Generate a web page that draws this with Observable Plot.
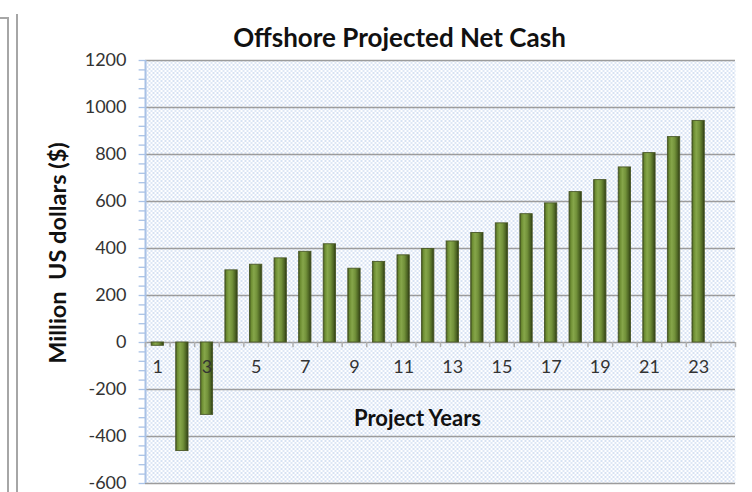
<!DOCTYPE html>
<html>
<head>
<meta charset="utf-8">
<script src="https://cdn.jsdelivr.net/npm/d3@7"></script>
<script src="https://cdn.jsdelivr.net/npm/@observablehq/plot@0.6"></script>
<style>
  html, body { margin: 0; padding: 0; background: #fff; }
  #wrap { position: relative; width: 752px; height: 492px; overflow: hidden; font-family: Lato, "Open Sans", sans-serif; }
  .edge { position: absolute; background: #a6a6a6; }
</style>
</head>
<body>
<div id="wrap">
  <div class="edge" style="left:7px; top:17px; width:1.5px; height:480px;"></div>
  <div class="edge" style="left:0px; top:17px; width:8px; height:1.5px;"></div>
  <div class="edge" style="left:16px; top:14px; width:1.5px; height:480px;"></div>
</div>
<script>
// ---- data ----
const title = "Offshore Projected Net Cash";
const yTitle = "Million  US dollars ($)";
const xTitle = "Project Years";
const years = [1, 2, 3, 4, 5, 6, 7, 8, 9, 10, 11, 12, 13, 14, 15, 16, 17, 18, 19, 20, 21, 22, 23];
const netCash = [-14, -462, -308, 307, 331, 358, 386, 418, 314, 343, 371, 398, 430, 466, 507, 546, 592, 640, 691, 745, 806, 874, 943];
const xTickLabels = [1, 3, 5, 7, 9, 11, 13, 15, 17, 19, 21, 23];
const yTicks = [-600, -400, -200, 0, 200, 400, 600, 800, 1000, 1200];
const yMinorTicks = d3.range(-600, 1201, 40);
const slotCount = 24;

const data = years.map((y, i) => ({year: y, value: netCash[i]}));
const boundaries = d3.range(0, slotCount + 1).map(k => k + 0.5);

const font = "Lato, 'Open Sans', sans-serif";

const chart = Plot.plot({
  width: 752,
  height: 492,
  marginLeft: 145,
  marginRight: 17,
  marginTop: 60,
  marginBottom: 9,
  style: {fontFamily: font, background: "transparent", overflow: "visible"},
  x: {domain: [0.5, slotCount + 0.5], axis: null},
  y: {domain: [-600, 1200], axis: null},
  marks: [
    Plot.frame({fill: "url(#dots)", stroke: null}),
    Plot.ruleY(yTicks, {stroke: "#9c9c9c", strokeWidth: 1.3}),
    Plot.ruleY(yMinorTicks, {x1: 0.5 - 0.26, x2: 0.5, stroke: "#a9c2e6", strokeWidth: 1.3}),
    Plot.ruleX([0.5], {stroke: "#a9c2e6", strokeWidth: 2}),
    Plot.ruleX(boundaries, {y1: 0, y2: -22, stroke: "#b0b0b0", strokeWidth: 1.5}),
    Plot.rectY(data, {x1: d => d.year - 0.25, x2: d => d.year + 0.25, y1: 0, y2: "value",
      fill: "url(#barGrad)", stroke: "#4a5828", strokeWidth: 0.9}),
    Plot.axisY({ticks: yTicks, tickSize: 0, tickPadding: 19, fontSize: 18, fill: "#333", label: null, tickFormat: d => String(d)}),
    Plot.text(xTickLabels, {x: d => d, y: 0, dy: 25, fontSize: 18, fill: "#333"}),
    Plot.text([xTitle], {frameAnchor: "bottom", lineAnchor: "middle", textAnchor: "middle", dx: -23, dy: -65, fontSize: 22, fontWeight: "bold", fill: "#111"}),
    Plot.text([title], {frameAnchor: "top", lineAnchor: "middle", textAnchor: "middle", dx: -41, dy: -22, fontSize: 26, fontWeight: "bold", fill: "#111"}),
    Plot.text([yTitle], {frameAnchor: "left", lineAnchor: "middle", textAnchor: "middle", rotate: -90, dx: -87, dy: -19, fontSize: 23.5, fontWeight: "bold", fill: "#111"})
  ]
});

const svg = d3.select(chart);
const defs = svg.insert("defs", ":first-child");
const pat = defs.append("pattern").attr("id", "dots").attr("patternUnits", "userSpaceOnUse")
  .attr("width", 4).attr("height", 4);
pat.append("rect").attr("width", 4).attr("height", 4).attr("fill", "#ffffff");
pat.append("rect").attr("x", 0).attr("y", 0).attr("width", 2).attr("height", 1).attr("fill", "#adc4e6");
pat.append("rect").attr("x", 2).attr("y", 2).attr("width", 2).attr("height", 1).attr("fill", "#bccfec");
const grad = defs.append("linearGradient").attr("id", "barGrad").attr("x1", "0").attr("x2", "1").attr("y1", "0").attr("y2", "0");
[["0%", "#3e4f1c"], ["14%", "#6d8d32"], ["35%", "#86a64a"], ["60%", "#72913a"], ["85%", "#4b6222"], ["100%", "#2c3912"]]
  .forEach(([o, c]) => grad.append("stop").attr("offset", o).attr("stop-color", c));

chart.style.position = "absolute";
chart.style.left = "0px";
chart.style.top = "0px";
document.getElementById("wrap").appendChild(chart);
</script>
</body>
</html>
